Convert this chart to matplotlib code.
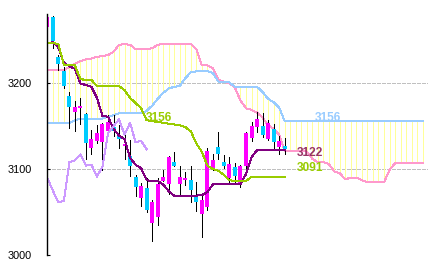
import matplotlib
matplotlib.use('Agg')
import matplotlib.pyplot as plt
import numpy as np

plt.rcParams['lines.scale_dashes'] = False

# ---- data ----
opens  = [3266, 3278, 3231, 3215, 3185, 3167, 3171, 3164, 3125, 3133,
          3132, 3144, 3149, 3139, 3127, 3115, 3091, 3066, 3078, 3037,
          3044, 3086, 3083, 3108, 3083, 3087, 3087, 3070, 3048, 3056,
          3101, 3126, 3108, 3089, 3102, 3081, 3103, 3136, 3149, 3150,
          3135, 3147, 3126, 3127]
closes = [3278, 3249, 3223, 3197, 3172, 3172, 3174, 3130, 3135, 3142,
          3153, 3155, 3144, 3135, 3129, 3103, 3079, 3080, 3052, 3062,
          3083, 3091, 3114, 3104, 3091, 3090, 3076, 3062, 3064, 3121,
          3110, 3118, 3103, 3106, 3092, 3103, 3142, 3150, 3158, 3140,
          3154, 3131, 3133, 3123]
highs  = [3281, 3279, 3233, 3219, 3190, 3179, 3183, 3166, 3146, 3151,
          3154, 3163, 3163, 3151, 3146, 3134, 3093, 3084, 3090, 3064,
          3090, 3099, 3115, 3120, 3104, 3097, 3104, 3085, 3068, 3124,
          3118, 3143, 3116, 3114, 3107, 3105, 3143, 3155, 3167, 3166,
          3157, 3152, 3138, 3136]
lows   = [3258, 3241, 3216, 3195, 3148, 3144, 3153, 3112, 3118, 3130,
          3099, 3143, 3138, 3125, 3112, 3092, 3068, 3057, 3050, 3016,
          3035, 3086, 3071, 3104, 3071, 3081, 3062, 3051, 3021, 3052,
          3099, 3112, 3101, 3084, 3083, 3079, 3099, 3133, 3143, 3137,
          3134, 3125, 3118, 3117]

tenkan = [3247, 3248, 3242, 3224, 3220, 3217, 3200, 3198, 3196, 3183,
          3162, 3161, 3147, 3139, 3135, 3113, 3105, 3101, 3087, 3086,
          3086, 3082, 3074, 3069, 3069, 3069, 3069, 3069, 3069.5, 3073,
          3082, 3082.5, 3082.5, 3082.5, 3082.5, 3082.5, 3094, 3114, 3122, 3122,
          3122, 3122, 3122, 3122]
kijun  = [3247, 3247, 3246, 3222, 3221, 3221, 3205, 3204, 3204, 3197,
          3197, 3197, 3197, 3197, 3192, 3183, 3177, 3171, 3157, 3156,
          3155, 3154, 3153, 3152, 3151, 3149, 3144, 3130, 3120, 3104,
          3100, 3098, 3093, 3087, 3086, 3086, 3086, 3091, 3091, 3091,
          3091, 3091, 3091, 3091]
# lagging span (drawn 25 bars back)
chikou = [3090, 3075, 3061, 3063, 3108, 3110, 3117, 3104, 3105, 3091,
          3103, 3142, 3150, 3158, 3140, 3154, 3131, 3133, 3123]

senkou_a = [3216, 3216, 3216, 3215.5, 3219, 3223, 3226, 3228, 3229, 3231,
            3232, 3233, 3237, 3245, 3246, 3245, 3240, 3240, 3240, 3241,
            3245, 3246, 3246, 3246, 3246, 3246, 3246, 3240, 3221, 3221,
            3218, 3204, 3202, 3200, 3195, 3180, 3171, 3169, 3166, 3160,
            3151, 3147, 3140, 3121, 3121, 3121, 3121, 3120.6, 3112, 3108,
            3108, 3106, 3097, 3095, 3088, 3090, 3090, 3087, 3084.5, 3084.5,
            3084.5, 3084.5, 3099, 3106.7, 3106.7, 3106.7, 3106.7, 3106.7, 3106.7]
senkou_b = [3154, 3154, 3154, 3154, 3154, 3157, 3159, 3159, 3159, 3159,
            3159, 3161, 3163, 3165, 3165, 3165, 3165, 3165, 3168, 3174,
            3182, 3189, 3194, 3196, 3197, 3206, 3213, 3214, 3214.5, 3214.5,
            3212, 3202, 3202, 3201, 3196, 3196, 3196, 3196, 3196, 3190,
            3182, 3178, 3172, 3156, 3156, 3156, 3156, 3156, 3156, 3156,
            3156, 3156, 3156, 3156, 3156, 3156, 3156, 3156, 3156, 3156,
            3156, 3156, 3156, 3156, 3156, 3156, 3156, 3156, 3156]

yticks = [3000, 3100, 3200]
mid_label = "3156"

# ---- colours ----
UP = '#ff00ff'
DOWN = '#00ccff'
C_TENKAN = '#800080'
C_KIJUN = '#99cc00'
C_CHIKOU = '#cc99ff'
C_SPAN_A = '#ff99cc'
C_SPAN_B = '#99ccff'
C_CLOUD = '#ffff99'

LW = 0.72

fig = plt.figure(figsize=(4.33, 2.69), dpi=100)
ax = fig.add_axes([47/433, (269-254.7)/269, 381/433, (254.7-14)/269])

n = len(closes)
x = np.arange(n)
xs = np.arange(len(senkou_a))
xc = np.arange(len(chikou))

# cloud stripes
sa = np.array(senkou_a); sb = np.array(senkou_b)
ax.vlines(xs, np.minimum(sa, sb), np.maximum(sa, sb), color=C_CLOUD,
          lw=LW, antialiased=False, zorder=1)

# grid
for v in yticks:
    ax.axhline(v, color='#c0c0c0', lw=LW, linestyle=(0, (2.2, 1.4)),
               antialiased=False, zorder=0.5)

ax.plot(xs, sa, color=C_SPAN_A, lw=LW, antialiased=False, zorder=2)
ax.plot(xs, sb, color=C_SPAN_B, lw=LW, antialiased=False, zorder=2)

# candles
o = np.array(opens); c = np.array(closes)
h = np.array(highs); l = np.array(lows)
ax.vlines(x, l, h, color='black', lw=LW, antialiased=False, zorder=3)
up = c >= o
bottom = np.minimum(o, c)
height = np.maximum(np.abs(c - o), 1.5)
ax.bar(x[up], height[up], bottom=bottom[up], width=0.72, color=UP,
       linewidth=0, antialiased=False, zorder=4)
ax.bar(x[~up], height[~up], bottom=bottom[~up], width=0.72, color=DOWN,
       linewidth=0, antialiased=False, zorder=4)

# lines
ax.plot(x, tenkan, color=C_TENKAN, lw=LW, antialiased=False, zorder=5)
ax.plot(x, kijun, color=C_KIJUN, lw=LW, antialiased=False, zorder=5)
ax.plot(xc, chikou, color=C_CHIKOU, lw=LW, antialiased=False, zorder=5)

# labels
fnt = dict(family='Liberation Sans', fontweight='bold', fontsize=8.6)
ax.text(17.9, 3160, mid_label, color=C_KIJUN, va='center', ha='left', zorder=6, **fnt)
ax.text(48.5, 3160, f"{senkou_b[-1]:.0f}", color=C_SPAN_B, va='center', ha='left', zorder=6, **fnt)
ax.text(45.2, 3118.5, f"{tenkan[-1]:.0f}", color='#993366', va='center', ha='left', zorder=6, **fnt)
ax.text(45.2, 3101, f"{kijun[-1]:.0f}", color=C_KIJUN, va='center', ha='left', zorder=6, **fnt)

ax.set_xlim(-0.05, 68.97)
ax.set_ylim(3000, 3281)
for s in ['top', 'right', 'bottom']:
    ax.spines[s].set_visible(False)
ax.spines['left'].set_linewidth(1.0)
ax.spines['left'].set_zorder(7)
ax.set_xticks([])
ax.set_yticks(yticks)
ax.set_yticklabels([str(v) for v in yticks], family='Liberation Sans', fontsize=7.8)
ax.tick_params(axis='y', direction='in', length=2.5, width=0.8, pad=10.8, colors='black')
ax.patch.set_alpha(0)

fig.savefig('out.png', dpi=100)
